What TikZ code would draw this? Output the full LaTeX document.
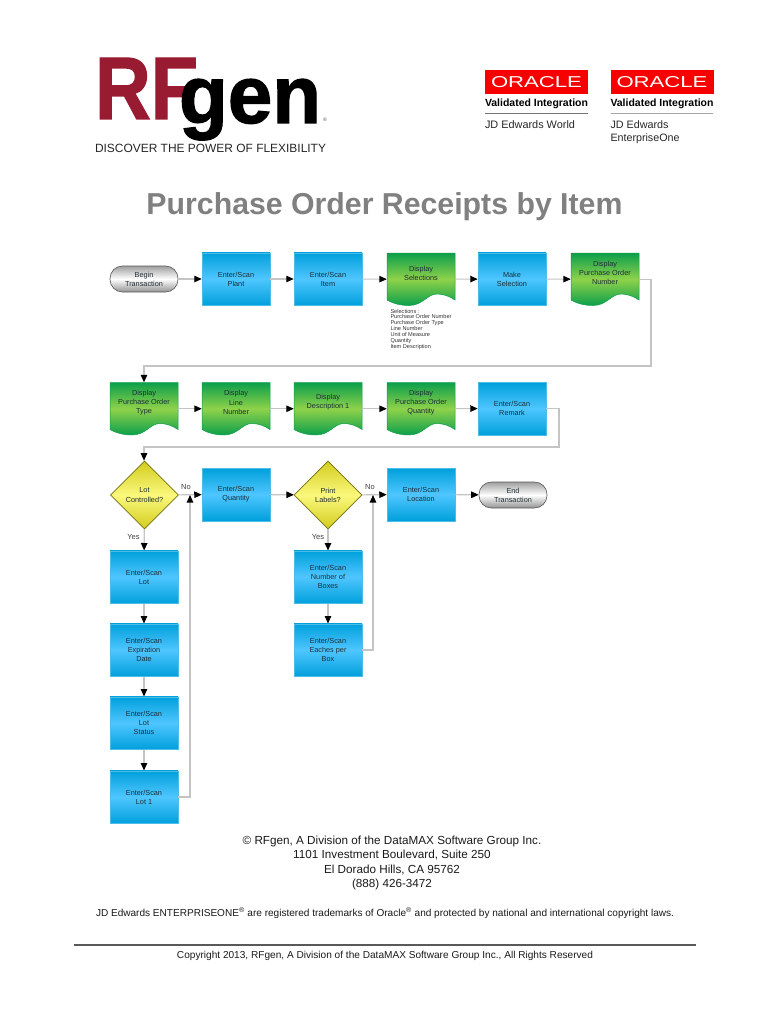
\documentclass[tikz,border=0pt]{standalone}
\usepackage{fontspec}
\usepackage{graphicx}
\setmainfont{Liberation Sans}
\newfontfamily\heavyfont[UprightFont=* Bold,FakeBold=1.5]{Liberation Sans}
\usetikzlibrary{arrows.meta,shapes.geometric}
\definecolor{blueA}{HTML}{00A0DC}
\definecolor{blueB}{HTML}{4FC6FF}
\definecolor{greenA}{HTML}{0C9F4B}
\definecolor{greenB}{HTML}{8FD24A}
\definecolor{yelA}{HTML}{D2CC1E}
\definecolor{yelB}{HTML}{FBF87C}
\definecolor{wire}{HTML}{C4C4C4}
\definecolor{rfred}{HTML}{991B32}
\definecolor{orred}{HTML}{F80000}
\definecolor{ink}{HTML}{1E2E36}
\newcommand{\fitw}[2]{\resizebox{#1pt}{!}{#2}}
\newcommand{\fitwh}[3]{\resizebox{#1pt}{#2pt}{#3}}
\tikzset{
  x=1pt,y=-1pt,
  lab/.style={font=\fontsize{7.3}{9.2}\selectfont,text=ink,align=center,inner sep=0pt},
  bluebox/.style={lab,rectangle,minimum width=68pt,minimum height=52.5pt,top color=blueA,bottom color=blueA,middle color=blueB,draw=blueA!70!white,line width=.5pt},
  docnode/.style={rectangle,inner sep=0pt,minimum width=68pt,minimum height=52.5pt},
  docshape/.style={top color=greenA,bottom color=greenA,middle color=greenB,draw=greenA,line width=.5pt},
  decide/.style={lab,diamond,aspect=1,minimum width=68pt,minimum height=68pt,top color=yelA,bottom color=yelA,middle color=yelB,draw=yelA!55!black,line width=.6pt},
  term/.style={lab,rectangle,rounded corners=12.5pt,minimum width=68pt,minimum height=26pt,top color=gray!75,bottom color=gray!85,middle color=white,draw=black!65,line width=.6pt},
  flow/.style={draw=wire,line width=1.1pt,-{Triangle[length=7.5pt,width=6.5pt,color=black]}},
  tag/.style={font=\fontsize{7.5}{9}\selectfont,text=black!75,inner sep=0pt},
  plain/.style={inner sep=0pt,outer sep=0pt},
}
\newcommand{\docbox}[4]{% name, x-left, y-top, text
  \path[docshape] (#2,#3) -- (#2+68,#3) -- (#2+68,#3+47)
    .. controls (#2+62,#3+43) and (#2+56,#3+41) .. (#2+50,#3+41)
    .. controls (#2+40,#3+41) and (#2+36,#3+52.5) .. (#2+22,#3+52.5)
    .. controls (#2+14,#3+52.5) and (#2+7,#3+51) .. (#2,#3+47) -- cycle;
  \node[docnode] (#1) at (#2+34,#3+26.25) {};
  \node[lab] (#1t) at (#2+34,#3+20) {#4};
}
\begin{document}
\begin{tikzpicture}
\useasboundingbox (0,0) rectangle (770,1024);
% logo
\node[plain,anchor=south west,text=rfred] (rf) at (95,119) {\fitwh{103}{61}{\heavyfont RF}};
\node[plain,anchor=base west,text=black] (gen) at (179,123) {\fitwh{142}{44}{\heavyfont gen}};
\node[plain,text=black!70] (reg) at (325,120) {\fontsize{5}{6}\selectfont ®};
\node[plain,anchor=west,text=black!85] (tagline) at (95,148) {\fitw{231}{\fontsize{12}{14}\selectfont DISCOVER THE POWER OF FLEXIBILITY}};
% oracle badges
\node[plain,rectangle,fill=orred,minimum width=103pt,minimum height=24pt,anchor=north west] (or1) at (485,70) {};
\node[plain,rectangle,fill=orred,minimum width=103pt,minimum height=24pt,anchor=north west] (or2) at (610.5,70) {};
\node[plain,text=white] (or1t) at (or1.center) {\fitwh{91}{11}{ORACLE}};
\node[plain,text=white] (or2t) at (or2.center) {\fitwh{91}{11}{ORACLE}};
\node[plain,anchor=west] (v1) at (485,104) {\fitw{103}{\bfseries\fontsize{11}{12}\selectfont Validated Integration}};
\node[plain,anchor=west] (v2) at (610.5,104) {\fitw{103}{\bfseries\fontsize{11}{12}\selectfont Validated Integration}};
\draw[black!55,line width=.9pt] (485,113.5) -- (588,113.5);
\draw[black!35,line width=.9pt] (610.5,113.5) -- (713,113.5);
\node[plain,anchor=west,text=black!85] (w1) at (485,124.5) {\fitw{90}{\fontsize{11}{12}\selectfont JD Edwards World}};
\node[plain,anchor=west,text=black!85] (e1) at (610.5,124.5) {\fitw{58}{\fontsize{11}{12}\selectfont JD Edwards}};
\node[plain,anchor=west,text=black!85] (e2) at (610.5,138.5) {\fitw{69}{\fontsize{11}{12}\selectfont EnterpriseOne}};
% title
\node[plain,text=black!50] (title) at (384.5,206.5) {\fitw{476}{\bfseries\fontsize{31}{34}\selectfont Purchase Order Receipts by Item}};
% row 1
\node[term] (begin) at (144,279) {Begin\\Transaction};
\node[bluebox] (plant) at (236,279) {Enter/Scan\\Plant};
\node[bluebox] (item) at (328,279) {Enter/Scan\\Item};
\docbox{dsel}{387}{253}{Display\\Selections}
\node[bluebox] (make) at (512,279) {Make\\Selection};
\docbox{dpon}{571}{253}{Display\\Purchase Order\\Number}
\node[plain,anchor=north west,align=left,font=\fontsize{5.6}{5.85}\selectfont,text=black!80] (sel) at (390.5,309) {Selections :\\Purchase Order Number\\Purchase Order Type\\Line Number\\Unit of Measure\\Quantity\\Item Description};
% row 2
\docbox{dtyp}{110}{382.5}{Display\\Purchase Order\\Type}
\docbox{dlin}{202}{382.5}{Display\\Line\\Number}
\docbox{ddes}{294}{382.5}{Display\\Description 1}
\docbox{dqty}{387}{382.5}{Display\\Purchase Order\\Quantity}
\node[bluebox] (rem) at (512,408.5) {Enter/Scan\\Remark};
% row 3
\node[decide] (lotq) at (144.5,495) {Lot\\Controlled?};
\node[bluebox] (qty) at (236,494.5) {Enter/Scan\\Quantity};
\node[decide] (prq) at (328,495) {Print\\Labels?};
\node[bluebox] (loc) at (421,494.5) {Enter/Scan\\Location};
\node[term] (end) at (513,495) {End\\Transaction};
% columns
\node[bluebox] (lot) at (144,577) {Enter/Scan\\Lot};
\node[bluebox] (exp) at (144,650) {Enter/Scan\\Expiration\\Date};
\node[bluebox] (sta) at (144,723) {Enter/Scan\\Lot\\Status};
\node[bluebox] (lt1) at (144,797) {Enter/Scan\\Lot 1};
\node[bluebox] (box) at (328,577) {Enter/Scan\\Number of\\Boxes};
\node[bluebox] (eac) at (328,650) {Enter/Scan\\Eaches per\\Box};
% helper points
\coordinate (j1) at (651,366);
\coordinate (j2) at (559,447);
\coordinate (m1) at (190,495);
\coordinate (m2) at (373,495);
\coordinate (t1) at (144,366);
\coordinate (t2) at (144,447);
% connectors
\draw[flow] (begin) -- (plant);
\draw[flow] (plant) -- (item);
\draw[flow] (item) -- (dsel);
\draw[flow] (dsel) -- (make);
\draw[flow] (make) -- (dpon);
\draw[flow] (dpon.east) -| (j1) -- (t1) -- (dtyp.north -| t1);
\draw[flow] (dtyp) -- (dlin);
\draw[flow] (dlin) -- (ddes);
\draw[flow] (ddes) -- (dqty);
\draw[flow] (dqty) -- (rem);
\draw[flow] (rem.east) -| (j2) -- (t2) -- (lotq.north -| t2);
\draw[flow] (lotq) -- (qty);
\draw[flow] (qty) -- (prq);
\draw[flow] (prq) -- (loc);
\draw[flow] (loc) -- (end);
\draw[flow] (lotq) -- (lot);
\draw[flow] (lot) -- (exp);
\draw[flow] (exp) -- (sta);
\draw[flow] (sta) -- (lt1);
\draw[flow] (prq) -- (box);
\draw[flow] (box) -- (eac);
\draw[flow] (lt1.east) -| (m1);
\draw[flow] (eac.east) -| (m2);
% branch labels
\node[tag] (no1) at (186,487) {No};
\node[tag] (no2) at (370,487) {No};
\node[tag] (yes1) at (133.5,536.5) {Yes};
\node[tag] (yes2) at (318,536.5) {Yes};
% footer
\node[plain,align=center,font=\fontsize{11.7}{14.6}\selectfont,text=black!90] (addr) at (392,863) {© RFgen, A Division of the DataMAX Software Group Inc.\\1101 Investment Boulevard, Suite 250\\El Dorado Hills, CA  95762\\(888) 426-3472};
\node[plain,text=black!90] (tm) at (385,913) {\fitw{578}{\fontsize{10.3}{12}\selectfont JD Edwards ENTERPRISEONE\textsuperscript{®} are registered trademarks of Oracle\textsuperscript{®} and protected by national and international copyright laws.}};
\coordinate (ra) at (74,945);
\coordinate (rb) at (696,945);
\draw[black!65,line width=1.4pt] (ra) -- (rb);
\node[plain,text=black!90] (copy) at (385,955.5) {\fitw{416}{\fontsize{10.3}{12}\selectfont Copyright 2013, RFgen, A Division of the DataMAX Software Group Inc., All Rights Reserved}};
\end{tikzpicture}
\end{document}
